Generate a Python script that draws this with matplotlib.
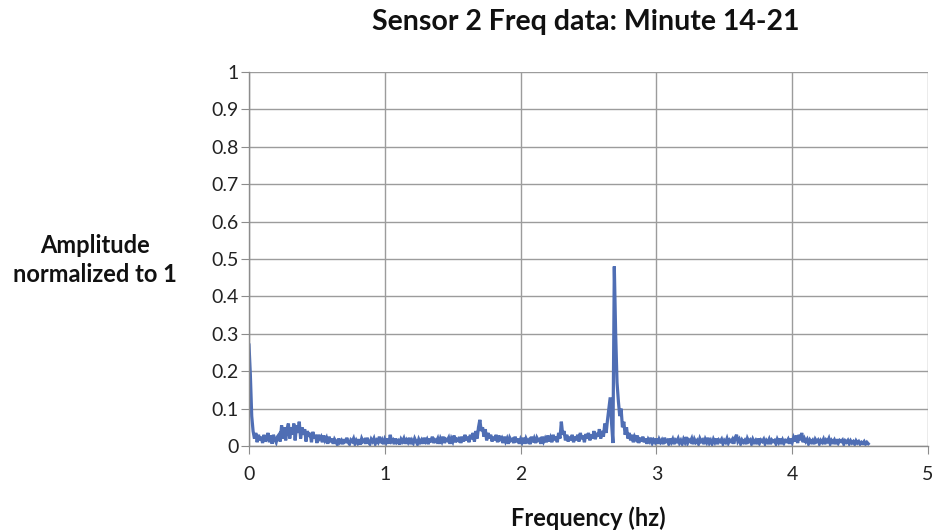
import numpy as np
import matplotlib
matplotlib.use("Agg")
import matplotlib.pyplot as plt

plt.rcParams['font.family'] = ['Lato', 'DejaVu Sans']

freq_step = 0.01
amplitude = [
    0.27, 0.19, 0.08, 0.04, 0.02, 0.035, 0.01, 0.03, 0.015, 0.025, 0.008, 0.03, 0.012, 0.02, 0.035, 0.01, 0.028, 0.006, 0.03, 0.018,
    0.01, 0.025, 0.03, 0.012, 0.055, 0.02, 0.05, 0.015, 0.045, 0.06, 0.02, 0.05, 0.03, 0.06, 0.015, 0.055, 0.035, 0.065, 0.02, 0.05,
    0.03, 0.045, 0.012, 0.04, 0.025, 0.035, 0.01, 0.038, 0.02, 0.03, 0.008, 0.03, 0.02, 0.025, 0.01, 0.028, 0.015, 0.022, 0.006, 0.025,
    0.01, 0.02, 0.006, 0.018, 0.012, 0.004, 0.02, 0.01, 0.015, 0.005, 0.018, 0.008, 0.022, 0.01, 0.005, 0.016, 0.012, 0.02, 0.006, 0.015,
    0.008, 0.018, 0.004, 0.02, 0.012, 0.016, 0.006, 0.022, 0.01, 0.005, 0.018, 0.012, 0.02, 0.006, 0.015, 0.01, 0.025, 0.008, 0.016, 0.005,
    0.018, 0.01, 0.02, 0.006, 0.03, 0.012, 0.016, 0.005, 0.02, 0.01, 0.014, 0.004, 0.018, 0.012, 0.02, 0.006, 0.016, 0.01, 0.022, 0.005,
    0.015, 0.008, 0.02, 0.012, 0.005, 0.018, 0.01, 0.016, 0.006, 0.022, 0.012, 0.018, 0.005, 0.02, 0.01, 0.025, 0.008, 0.016, 0.012, 0.02,
    0.006, 0.02, 0.012, 0.025, 0.008, 0.018, 0.015, 0.022, 0.006, 0.02, 0.012, 0.028, 0.01, 0.018, 0.015, 0.024, 0.008, 0.025, 0.012, 0.03,
    0.015, 0.025, 0.01, 0.03, 0.018, 0.035, 0.012, 0.04, 0.02, 0.05, 0.07, 0.04, 0.05, 0.025, 0.045, 0.015, 0.035, 0.02, 0.03, 0.012,
    0.025, 0.015, 0.03, 0.01, 0.028, 0.018, 0.022, 0.008, 0.025, 0.012, 0.02, 0.006, 0.022, 0.015, 0.018, 0.008, 0.025, 0.01, 0.02, 0.006,
    0.018, 0.01, 0.022, 0.006, 0.02, 0.012, 0.016, 0.005, 0.025, 0.01, 0.02, 0.008, 0.022, 0.015, 0.018, 0.006, 0.025, 0.012, 0.02, 0.01,
    0.028, 0.012, 0.022, 0.01, 0.03, 0.015, 0.025, 0.01, 0.035, 0.02, 0.065, 0.03, 0.04, 0.015, 0.03, 0.012, 0.025, 0.015, 0.03, 0.01,
    0.025, 0.015, 0.03, 0.012, 0.035, 0.018, 0.028, 0.01, 0.032, 0.02, 0.035, 0.015, 0.03, 0.02, 0.04, 0.018, 0.035, 0.025, 0.045, 0.02,
    0.04, 0.025, 0.06, 0.035, 0.07, 0.1, 0.13, 0.06, 0.008, 0.48, 0.3, 0.17, 0.12, 0.08, 0.1, 0.05, 0.065, 0.03, 0.05, 0.02,
    0.035, 0.015, 0.03, 0.01, 0.025, 0.018, 0.028, 0.008, 0.022, 0.012, 0.025, 0.01, 0.02, 0.006, 0.018, 0.012, 0.022, 0.008, 0.016, 0.01,
    0.02, 0.006, 0.018, 0.01, 0.016, 0.005, 0.022, 0.012, 0.015, 0.006, 0.02, 0.01, 0.018, 0.005, 0.016, 0.012, 0.02, 0.008, 0.015, 0.006,
    0.018, 0.01, 0.024, 0.008, 0.016, 0.012, 0.02, 0.005, 0.018, 0.01, 0.015, 0.006, 0.02, 0.012, 0.016, 0.005, 0.018, 0.01, 0.022, 0.008,
    0.015, 0.006, 0.018, 0.01, 0.02, 0.005, 0.016, 0.012, 0.018, 0.006, 0.015, 0.01, 0.02, 0.008, 0.016, 0.012, 0.018, 0.006, 0.022, 0.03,
    0.012, 0.018, 0.006, 0.016, 0.01, 0.015, 0.005, 0.02, 0.012, 0.016, 0.006, 0.018, 0.01, 0.015, 0.005, 0.02, 0.008, 0.016, 0.012, 0.018,
    0.006, 0.015, 0.01, 0.018, 0.005, 0.016, 0.012, 0.015, 0.006, 0.018, 0.01, 0.02, 0.005, 0.016, 0.008, 0.015, 0.012, 0.018, 0.006, 0.02,
    0.01, 0.022, 0.012, 0.028, 0.008, 0.03, 0.015, 0.035, 0.01, 0.02, 0.012, 0.018, 0.006, 0.016, 0.01, 0.015, 0.005, 0.018, 0.012, 0.016,
    0.006, 0.015, 0.01, 0.018, 0.005, 0.016, 0.012, 0.02, 0.006, 0.015, 0.01, 0.016, 0.005, 0.018, 0.008, 0.015, 0.012, 0.016, 0.005, 0.014,
    0.01, 0.015, 0.006, 0.014, 0.008, 0.012, 0.005, 0.014, 0.008, 0.012, 0.005, 0.01, 0.007, 0.012, 0.005, 0.01, 0.006,
]
frequency = np.arange(len(amplitude)) * freq_step

x_ticks = [0, 1, 2, 3, 4, 5]
y_ticks = [0, 0.1, 0.2, 0.3, 0.4, 0.5, 0.6, 0.7, 0.8, 0.9, 1]
y_tick_labels = ["0", "0.1", "0.2", "0.3", "0.4", "0.5", "0.6", "0.7", "0.8", "0.9", "1"]

title = "Sensor 2 Freq data: Minute 14-21"
x_label = "Frequency (hz)"
y_label = "Amplitude\nnormalized to 1"

fig = plt.figure(figsize=(9.36, 5.31), dpi=100)
ax = fig.add_axes([249/936, 1-446/531, (928-249)/936, (446-72)/531])

ax.plot(frequency, amplitude, color="#4F6EB4", lw=2.3, solid_joinstyle="miter")

ax.set_xlim(0, 5)
ax.set_ylim(0, 1)
ax.set_xticks(x_ticks)
ax.set_yticks(y_ticks)
ax.set_yticklabels(y_tick_labels)
ax.grid(True, color="#9C9C9C", lw=1.0)
ax.set_axisbelow(True)
for s in ["top", "right"]:
    ax.spines[s].set_visible(False)
for s in ["left", "bottom"]:
    ax.spines[s].set_color("#8C8C8C")
    ax.spines[s].set_linewidth(1.0)
ax.tick_params(axis="both", length=5.5, color="#8C8C8C", labelsize=14, labelcolor="#222222")
ax.tick_params(axis="y", pad=2)
ax.tick_params(axis="x", pad=9)

fig.text(586/936, 1-22/531, title, ha="center", va="center", fontsize=20.5, fontweight="bold", color="#111111")
fig.text(588/936, 1-518/531, x_label, ha="center", va="center", fontsize=17, fontweight="bold", color="#111111")
fig.text(95/936, 1-260/531, y_label, ha="center", va="center", fontsize=17, fontweight="bold", color="#111111", linespacing=1.35)

fig.savefig("out.png", dpi=100, facecolor="white")
